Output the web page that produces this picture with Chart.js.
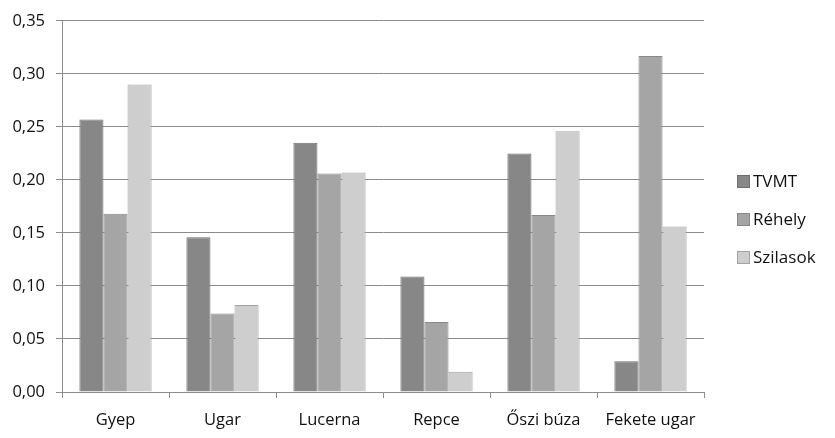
<!DOCTYPE html>
<html>
<head>
<meta charset="utf-8">
<script src="https://cdn.jsdelivr.net/npm/chart.js@4"></script>
<style>
  html, body { margin:0; padding:0; background:#fff; }
  #wrap { width:835px; height:438px; }
</style>
</head>
<body>
<div id="wrap"><canvas id="c" width="835" height="438"></canvas></div>
<script>
const categories = ['Gyep', 'Ugar', 'Lucerna', 'Repce', 'Őszi búza', 'Fekete ugar'];
const tvmt     = [0.257, 0.146, 0.235, 0.109, 0.225, 0.029];
const rehely   = [0.168, 0.074, 0.206, 0.066, 0.167, 0.317];
const szilasok = [0.290, 0.082, 0.207, 0.019, 0.246, 0.156];
const seriesNames = ['TVMT', 'Réhely', 'Szilasok'];

const FONT = '"Open Sans", Lato, sans-serif';
const fills   = ['#878787', '#a5a5a5', '#cecece'];
const borders = ['#6e6e6e', '#888888', '#a3a3a3'];

// legend drawn by hand so it sits where the original one is
const sideLegend = {
  id: 'sideLegend',
  afterDraw(chart) {
    const ctx = chart.ctx;
    ctx.save();
    ctx.font = '17px ' + FONT;
    ctx.textBaseline = 'middle';
    chart.data.datasets.forEach((ds, i) => {
      const y = 182 + i * 38;
      ctx.fillStyle = ds.backgroundColor;
      ctx.strokeStyle = ds.borderColor;
      ctx.lineWidth = 1;
      ctx.fillRect(737.5, y - 6.5, 12, 12);
      ctx.strokeRect(737.5, y - 6.5, 12, 12);
      ctx.fillStyle = '#111';
      ctx.fillText(ds.label, 753, y);
    });
    ctx.restore();
  }
};

new Chart(document.getElementById('c'), {
  type: 'bar',
  data: {
    labels: categories,
    datasets: [tvmt, rehely, szilasok].map((d, i) => ({
      label: seriesNames[i], data: d,
      backgroundColor: fills[i], borderColor: borders[i], borderWidth: 1,
      barPercentage: 1, categoryPercentage: 0.675
    }))
  },
  options: {
    responsive: false, animation: false,
    layout: { padding: { left: 0, right: 131, top: 18, bottom: 0 } },
    plugins: { legend: { display: false }, tooltip: { enabled: false } },
    scales: {
      x: {
        afterFit: s => { s.height = 46; },
        grid: { offset: true, drawOnChartArea: false, drawTicks: true, tickLength: 6, color: '#8c8c8c' },
        border: { color: '#8c8c8c' },
        ticks: { color: '#111', font: { family: FONT, size: 16.5 }, padding: 12 }
      },
      y: {
        min: 0, max: 0.35,
        afterFit: s => { s.width = 62; },
        grid: { color: '#8c8c8c', tickLength: 6 },
        border: { display: true, color: '#8c8c8c' },
        ticks: {
          stepSize: 0.05, color: '#111', padding: 11,
          font: { family: FONT, size: 16.5 },
          callback: v => v.toFixed(2).replace('.', ',')
        }
      }
    }
  },
  plugins: [sideLegend]
});
</script>
</body>
</html>
